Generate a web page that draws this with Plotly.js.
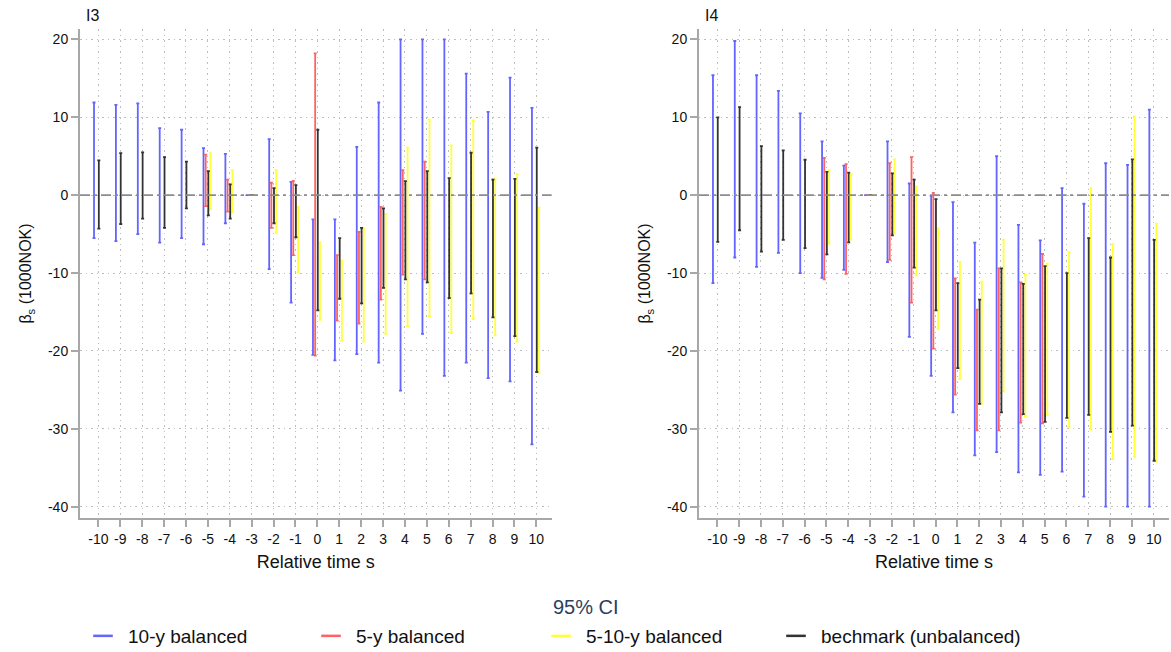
<!DOCTYPE html>
<html>
<head>
<meta charset="utf-8">
<script src="https://cdn.plot.ly/plotly-3.0.1.min.js"></script>
<style>html,body{margin:0;padding:0;background:#fff;}#chart{width:1171px;height:652px;}</style>
</head>
<body>
<div id="chart"></div>
<script>
// Relative time
const s = [-10,-9,-8,-7,-6,-5,-4,-3,-2,-1,0,1,2,3,4,5,6,7,8,9,10];
const xTickLabels = s.map(String);
const yTicks = [-40,-30,-20,-10,0,10,20];
const yTickLabels = yTicks.map(String);
const seriesNames = ["10-y balanced", "5-y balanced", "5-10-y balanced", "bechmark (unbalanced)"];

// Panel I3: 95% CI bounds
const blueLo3 = [-5.5,-5.9,-5.0,-6.1,-5.5,-6.3,-3.6,0,-9.5,-13.8,-20.5,-21.2,-20.4,-21.5,-25.1,-17.8,-23.2,-21.5,-23.5,-23.9,-32.0];
const blueHi3 = [11.9,11.6,11.8,8.6,8.4,6.05,5.3,0,7.2,1.7,-3.1,-3.1,6.2,11.9,20,20,20,15.6,10.7,15.1,11.2];
const redLo3  = [null,null,null,null,null,-1.4,-2.1,0,-4.2,-7.7,-20.6,-16.1,-16.5,-13.4,-10.2,-10.8,null,null,null,null,null];
const redHi3  = [null,null,null,null,null,5.2,2.0,0,1.6,1.85,18.2,-7.7,-4.7,-1.5,3.2,4.3,null,null,null,null,null];
const yelLo3  = [null,null,null,null,null,-1.8,-2.2,0,-4.8,-9.9,-16.0,-18.7,-18.8,-17.8,-16.8,-15.6,-17.7,-15.9,-18.0,-18.8,-22.8];
const yelHi3  = [null,null,null,null,null,5.4,3.2,0,3.2,-1.5,-6.05,-8.4,-4.3,-2.4,6.1,9.7,6.4,9.6,2.1,2.7,-1.6];
const blkLo3  = [-4.3,-3.7,-3.0,-4.2,-1.7,-2.6,-3.0,0,-3.6,-5.4,-14.8,-13.3,-13.9,-11.9,-10.8,-11.2,-13.2,-12.6,-15.7,-18.1,-22.7];
const blkHi3  = [4.46,5.4,5.5,4.9,4.3,3.1,1.4,0,0.9,1.3,8.4,-5.5,-4.2,-1.7,1.8,3.1,2.2,5.45,2.0,2.1,6.1];

// Panel I4: 95% CI bounds
const blueLo4 = [-11.3,-8.0,-9.2,-7.4,-10.0,-10.6,-9.6,0,-8.6,-18.2,-23.2,-27.9,-33.4,-33.0,-35.6,-35.9,-35.5,-38.7,-40,-40,-40];
const blueHi4 = [15.4,19.8,15.4,13.4,10.5,6.9,3.8,0,6.9,1.5,-0.1,-0.9,-6.1,5.0,-3.8,-5.8,0.9,-1.1,4.1,3.9,11.0];
const redLo4  = [null,null,null,null,null,-10.8,-10.1,0,-8.3,-13.8,-19.7,-25.6,-30.2,-30.2,-29.2,-29.3,null,null,null,null,null];
const redHi4  = [null,null,null,null,null,4.8,4.0,0,4.1,4.9,0.3,-10.7,-14.7,-9.4,-11.2,-7.55,null,null,null,null,null];
const yelLo4  = [null,null,null,null,null,-6.2,-5.7,0,-4.9,-10.3,-17.2,-23.6,-26.8,-25.2,-28.4,-28.2,-29.8,-30.1,-33.9,-33.6,-34.2];
const yelHi4  = [null,null,null,null,null,3.2,2.7,0,4.6,1.1,-4.25,-8.6,-11.1,-5.7,-10.2,-8.8,-7.3,0.9,-6.3,10.1,-3.65];
const blkLo4  = [-6.0,-4.5,-7.25,-5.75,-6.8,-7.6,-6.05,0,-5.15,-9.3,-14.8,-22.2,-26.8,-27.9,-28.1,-29.1,-28.6,-28.2,-30.4,-29.6,-34.1];
const blkHi4  = [10.0,11.3,6.3,5.75,4.55,3.0,2.9,0,2.8,2.0,-0.5,-11.3,-13.4,-9.4,-11.4,-9.1,-10.0,-5.5,-8.0,4.6,-5.75];

const colors = ["#6464ff", "#ff6262", "#ffff3c", "#333333"];
const offsets = [-0.2, -0.1, 0.12, 0.02];

function ciTrace(lo, hi, k, xa, ya) {
  const x = [], y = [], up = [], dn = [];
  for (let i = 0; i < s.length; i++) {
    if (lo[i] === null || hi[i] === null) continue;
    const m = (lo[i] + hi[i]) / 2;
    x.push(s[i] + offsets[k]); y.push(m); up.push(hi[i] - m); dn.push(m - lo[i]);
  }
  return {
    type: "scatter", mode: "markers", x: x, y: y, xaxis: xa, yaxis: ya,
    marker: {size: 1, opacity: 0, color: colors[k]},
    error_y: {type: "data", symmetric: false, array: up, arrayminus: dn,
              color: colors[k], thickness: 1.8, width: 1.5},
    showlegend: false, hoverinfo: "skip"
  };
}

const traces = [];
const panels = [
  [[blueLo3, blueHi3], [redLo3, redHi3], [yelLo3, yelHi3], [blkLo3, blkHi3], "x", "y"],
  [[blueLo4, blueHi4], [redLo4, redHi4], [yelLo4, yelHi4], [blkLo4, blkHi4], "x2", "y2"]
];
panels.forEach(p => {
  for (let k = 0; k < 4; k++) traces.push(ciTrace(p[k][0], p[k][1], k, p[4], p[5]));
});
const legendIds = ["legend", "legend2", "legend3", "legend4"];
for (let k = 0; k < 4; k++) {
  traces.push({type: "scatter", mode: "markers", x: [null], y: [null], name: seriesNames[k],
    legend: legendIds[k],
    marker: {symbol: "line-ew-open", size: 14, line: {color: colors[k], width: 2.5}, color: colors[k]},
    showlegend: true, hoverinfo: "skip"});
}

const font = "Arial, 'Liberation Sans', sans-serif";
const gridDash = "1.5px,4px";
function xaxis(dom, anchor) {
  return {domain: dom, anchor: anchor, range: [-10.84, 10.70], tickvals: s, ticktext: xTickLabels,
    showline: true, linecolor: "#a8a8a8", linewidth: 2, ticks: "outside", ticklen: 7, tickwidth: 2,
    tickcolor: "#a8a8a8", showgrid: true, gridcolor: "#bdbdbd", griddash: gridDash, gridwidth: 1,
    zeroline: false, tickangle: 0, tickfont: {size: 14, color: "#111", family: font},
    title: {text: "Relative time s", font: {size: 18, color: "#111", family: font}, standoff: 10},
    automargin: false, fixedrange: true};
}
function yaxis(anchor) {
  return {domain: [0, 1], anchor: anchor, range: [-41.45, 21.34], tickvals: yTicks, ticktext: yTickLabels,
    showline: true, linecolor: "#a8a8a8", linewidth: 2, ticks: "outside", ticklen: 7, tickwidth: 2,
    tickcolor: "#a8a8a8", showgrid: true, gridcolor: "#bdbdbd", griddash: gridDash, gridwidth: 1,
    zeroline: false, tickfont: {size: 14, color: "#111", family: font},
    title: {text: "β<sub>s</sub> (1000NOK)", font: {size: 16, color: "#111", family: font}, standoff: 12},
    automargin: false, fixedrange: true};
}

// legend text start positions (px) -> legend x
const PL = 80, PW = 1089, PB = 518, PH = 489;
function legendAt(textStartPx) {
  return {orientation: "h", x: (textStartPx - 51 - PL) / PW, y: (PB - 617) / PH,
    xanchor: "left", yanchor: "top", font: {size: 19, color: "#111", family: font},
    itemwidth: 40, bgcolor: "rgba(0,0,0,0)"};
}

const layout = {
  width: 1171, height: 652, paper_bgcolor: "#fff", plot_bgcolor: "#fff",
  margin: {l: PL, r: 2, t: 29, b: 134, autoexpand: false},
  font: {family: font},
  xaxis: xaxis([0, 0.4331], "y"),
  yaxis: yaxis("x"),
  xaxis2: xaxis([0.5684, 1], "y2"),
  yaxis2: yaxis("x2"),
  shapes: [
    {type: "line", xref: "x domain", yref: "y", x0: 0, x1: 1, y0: 0, y1: 0,
     line: {color: "#8c8c8c", width: 1.8, dash: "10px,4px,3px,4px"}},
    {type: "line", xref: "x2 domain", yref: "y2", x0: 0, x1: 1, y0: 0, y1: 0,
     line: {color: "#8c8c8c", width: 1.8, dash: "10px,4px,3px,4px"}}
  ],
  annotations: [
    {text: "I3", xref: "paper", yref: "paper", x: 0.0037, y: 1.0286, xanchor: "left", yanchor: "middle",
     showarrow: false, font: {size: 16, color: "#111", family: font}},
    {text: "I4", xref: "paper", yref: "paper", x: 0.572, y: 1.0286, xanchor: "left", yanchor: "middle",
     showarrow: false, font: {size: 16, color: "#111", family: font}},
    {text: "95% CI", xref: "paper", yref: "paper", x: (586 - PL) / PW, y: (PB - 607) / PH,
     xanchor: "center", yanchor: "middle", showarrow: false,
     font: {size: 20, color: "#2a3f5f", family: font}}
  ],
  legend: legendAt(129),
  legend2: legendAt(357),
  legend3: legendAt(587),
  legend4: legendAt(822),
  showlegend: true
};

Plotly.newPlot("chart", traces, layout, {displayModeBar: false, staticPlot: true});
</script>
</body>
</html>
